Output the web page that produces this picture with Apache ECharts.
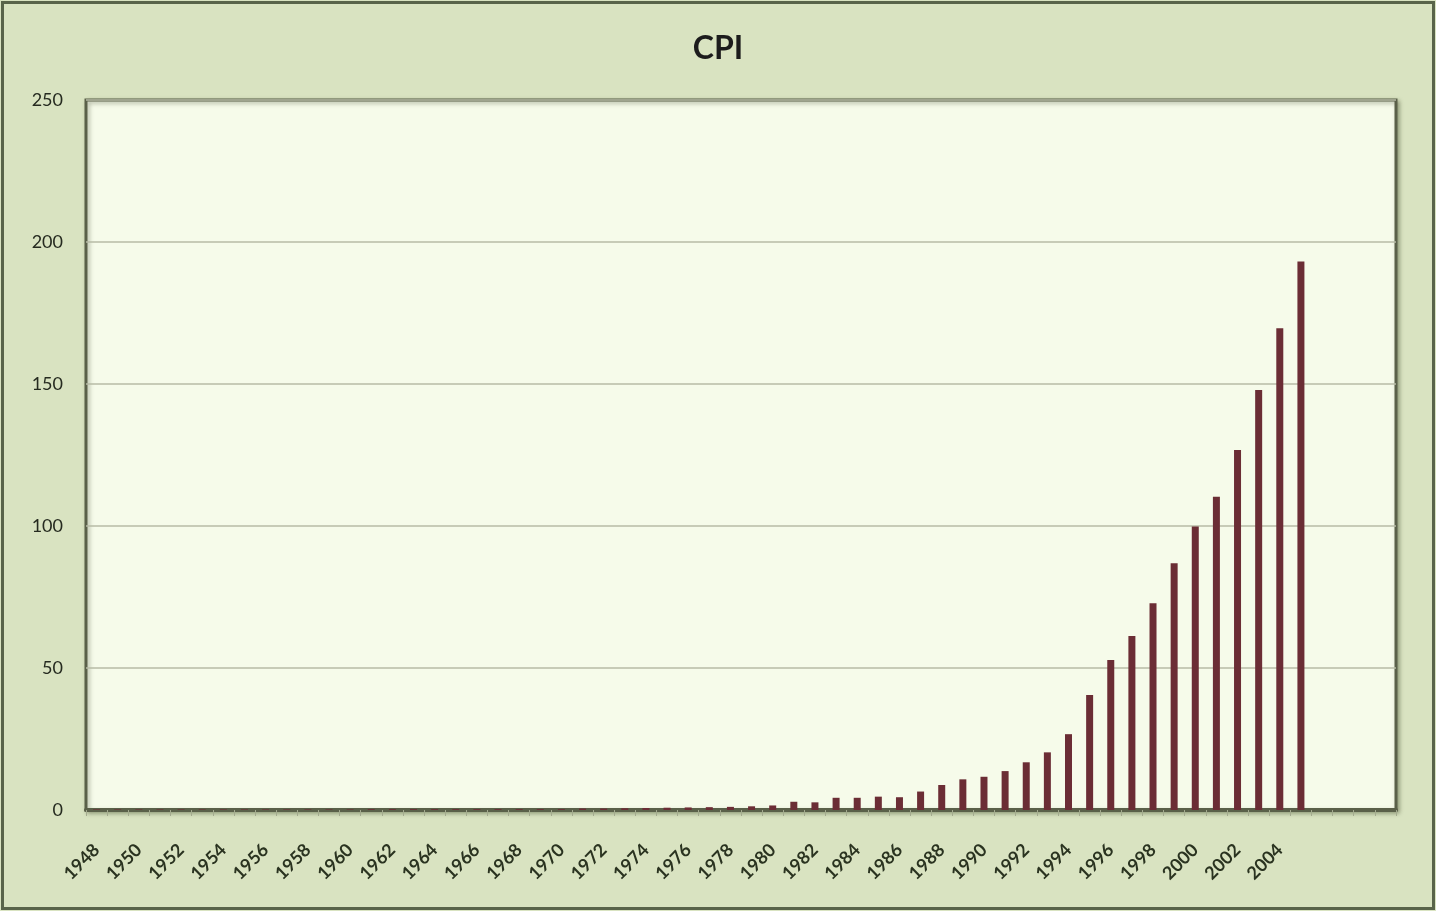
<!DOCTYPE html>
<html>
<head>
<meta charset="utf-8">
<title>CPI</title>
<script src="https://cdn.jsdelivr.net/npm/echarts@6/dist/echarts.min.js"></script>
<style>
html, body {
    margin: 0;
    padding: 0;
    background: #d9e3c1;
}
.wrap {
    position: relative;
    width: 1436px;
    height: 911px;
}
#cpi_chart {
    width: 1436px;
    height: 911px;
}
/* 外框 */
.frame {
    position: absolute;
    left: 1px;
    top: 1px;
    width: 1428px;
    height: 903px;
    border: 3px solid #59644a;
    pointer-events: none;
}
</style>
</head>
<body>
<div class="wrap">
    <div id="cpi_chart"></div>
    <div class="frame"></div>
</div>
<script>
// 年份（类目轴）
const years = [
    '1948', '1949', '1950', '1951', '1952', '1953', '1954', '1955', '1956', '1957',
    '1958', '1959', '1960', '1961', '1962', '1963', '1964', '1965', '1966', '1967',
    '1968', '1969', '1970', '1971', '1972', '1973', '1974', '1975', '1976', '1977',
    '1978', '1979', '1980', '1981', '1982', '1983', '1984', '1985', '1986', '1987',
    '1988', '1989', '1990', '1991', '1992', '1993', '1994', '1995', '1996', '1997',
    '1998', '1999', '2000', '2001', '2002', '2003', '2004', '2005', '2006', '2007',
    '2008', '2009'
];
// CPI 数值 1948 - 2005
const cpiValues = [
    0.2, 0.2, 0.2, 0.2, 0.2, 0.2, 0.2, 0.2, 0.2, 0.2,
    0.2, 0.2, 0.2, 0.3, 0.3, 0.3, 0.3, 0.3, 0.3, 0.3,
    0.3, 0.3, 0.3, 0.5, 0.5, 0.6, 0.7, 0.8, 0.9, 1.0,
    1.1, 1.3, 1.6, 2.9, 2.7, 4.3, 4.3, 4.7, 4.5, 6.5,
    8.8, 10.8, 11.7, 13.7, 16.8, 20.3, 26.7, 40.5, 52.8, 61.3,
    72.8, 86.9, 99.8, 110.3, 126.8, 147.9, 169.6, 193.1
];
// y 轴刻度
const yTicks = [0, 50, 100, 150, 200, 250];

const chart = echarts.init(document.getElementById('cpi_chart'));
const option = {
    backgroundColor: '#d9e3c1',
    animation: false,
    title: {
        text: 'CPI',
        left: 'center',
        top: 28,
        textStyle: {
            fontFamily: 'Lato',
            fontSize: 32,
            fontWeight: 'bold',
            color: '#1c1c1c'
        }
    },
    grid: {
        left: 86,
        right: 40,
        top: 100,
        bottom: 101,
        show: true,
        backgroundColor: '#f6fbea',
        borderColor: '#5a6049',
        borderWidth: 3,
        shadowColor: 'rgba(40,50,20,0.35)',
        shadowBlur: 4,
        shadowOffsetX: 2,
        shadowOffsetY: 2
    },
    xAxis: {
        type: 'category',
        data: years,
        boundaryGap: true,
        axisLine: {
            lineStyle: { color: '#5a6049', width: 4 }
        },
        axisTick: {
            show: true,
            interval: 0,
            length: 6,
            lineStyle: { color: '#a3aa8e', width: 1 }
        },
        axisLabel: {
            interval: 1,
            rotate: 45,
            margin: 37,
            fontFamily: 'Lato',
            fontSize: 18,
            fontWeight: 'bold',
            color: '#2a3320',
            // 2005 以后的年份不显示标签
            formatter: function (val, idx) {
                return idx < cpiValues.length ? val : '';
            }
        }
    },
    yAxis: {
        type: 'value',
        min: yTicks[0],
        max: yTicks[yTicks.length - 1],
        interval: yTicks[1] - yTicks[0],
        axisLine: { show: false },
        axisTick: { show: false },
        axisLabel: {
            margin: 23,
            fontFamily: 'Lato',
            fontSize: 18,
            color: '#262b20'
        },
        splitLine: {
            lineStyle: { color: '#b7bba6', width: 1.5 }
        }
    },
    series: [
        {
            name: 'CPI',
            type: 'bar',
            data: cpiValues,
            barWidth: 7,
            itemStyle: {
                color: '#6b2d35'
            }
        }
    ]
};
chart.setOption(option);
</script>
</body>
</html>
